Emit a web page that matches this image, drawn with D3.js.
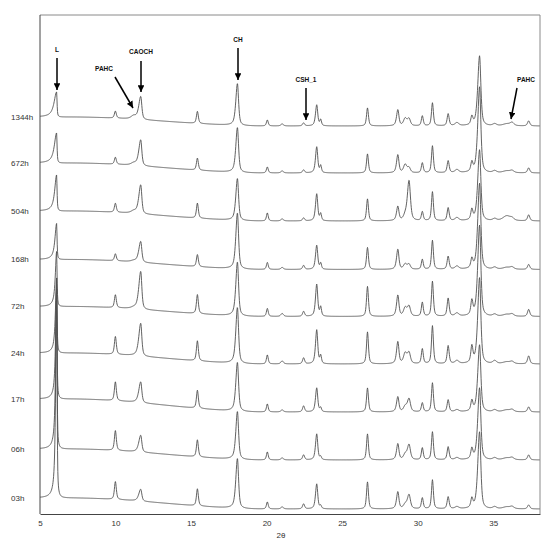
<!DOCTYPE html>
<html>
<head>
<meta charset="utf-8">
<script src="https://cdn.jsdelivr.net/npm/d3@7"></script>
<style>
  body { margin: 0; background: #fff; }
  svg { display: block; font-family: "Liberation Sans", Arial, sans-serif; }
</style>
</head>
<body>
<svg></svg>
<script>
// samples, top to bottom
var samples = ["1344h", "672h", "504h", "168h", "72h", "24h", "17h", "06h", "03h"];
// baseline level of each trace (after the first peak) and background drop towards 20 deg
var baseLevel = [397, 351, 303, 254.5, 207.5, 161, 115, 65, 16];
var bgDrop    = [9, 10, 10, 10, 10, 11, 13, 11, 11];
// width of the L peak (left half width) per sample
var lWidth = [0.2, 0.18, 0.15, 0.13, 0.1, 0.09, 0.08, 0.075, 0.07];

// peak positions (2theta) and fwhm
var peakPos   = [9.99, 11.2, 11.67, 15.42, 18.07, 20.05, 21.03, 22.45, 23.32, 23.58, 26.68, 28.69, 29.17, 29.43, 30.31, 30.98, 32.02, 32.6, 33.59, 34.1, 35.1, 35.9, 36.25, 37.35];
var peakWidth = [0.15, 0.4, 0.17, 0.15, 0.18, 0.14, 0.2, 0.16, 0.16, 0.13, 0.15, 0.17, 0.25, 0.22, 0.15, 0.15, 0.16, 0.3, 0.16, 0.2, 0.3, 0.6, 0.3, 0.18];
var peakLeft  = [1, 1, 1.8, 1, 1.4, 1, 1, 1, 1.2, 1, 1, 1.2, 1, 1.2, 1, 1, 1, 1, 1, 1.4, 1, 1, 1, 1];

// L peak heights per sample
var heightL = [25, 30, 36, 36, 55, 75, 110, 160, 220];
// heights of other peaks, one row per peak, columns follow samples
var peakHeights = [
  [7, 7, 9, 7, 13, 18, 19, 20, 18],      // 9.99
  [3, 2, 2, 1, 1, 0, 0, 0, 0],            // 11.2 PAHC
  [23, 26, 29, 21, 38, 33, 21, 17, 12],   // 11.67 CAOCH
  [12, 12, 15, 12, 19, 20, 18, 17, 17],   // 15.42
  [42, 45, 42, 56, 54, 56, 49, 48, 50],   // 18.07 CH
  [6, 6, 8, 7, 8, 9, 8, 8, 7],            // 20.05
  [2, 2, 2, 2, 3, 3, 2, 2, 2],            // 21.03
  [3, 3, 3, 4, 5, 6, 6, 5, 5],            // 22.45
  [21, 26, 27, 24, 32, 34, 24, 26, 25],   // 23.32
  [6, 7, 7, 6, 9, 8, 4, 3, 3],            // 23.58
  [18, 19, 22, 22, 30, 32, 24, 26, 27],   // 26.68
  [16, 18, 14, 20, 21, 22, 15, 16, 17],   // 28.69
  [7, 8, 4, 5, 8, 10, 5, 5, 4],           // 29.17
  [7, 5, 40, 5, 10, 11, 13, 15, 14],      // 29.43
  [10, 10, 9, 10, 14, 15, 9, 12, 11],     // 30.31
  [23, 27, 29, 29, 35, 38, 29, 28, 29],   // 30.98
  [12, 12, 13, 13, 18, 18, 12, 13, 12],   // 32.02
  [3, 3, 3, 3, 3, 3, 2, 2, 2],            // 32.6
  [8, 9, 10, 9, 14, 16, 10, 10, 9],       // 33.59
  [70, 86, 71, 86, 91, 86, 67, 72, 77],   // 34.1
  [2, 2, 2, 2, 2, 3, 2, 2, 2],            // 35.1
  [2, 2, 5, 2, 2, 2, 2, 2, 2],            // 35.9
  [3, 2, 2, 2, 2, 2, 2, 2, 2],            // 36.25
  [5, 5, 6, 5, 7, 8, 5, 5, 4]             // 37.35
];

var xTicks = [5, 10, 15, 20, 25, 30, 35];

// annotations: label, text pos, arrow start, arrow end
var notes = [
  {label: "L",     tx: 57,  ty: 52, x1: 57,  y1: 58, x2: 57,  y2: 90},
  {label: "PAHC",  tx: 104, ty: 71, x1: 115, y1: 77, x2: 133, y2: 108},
  {label: "CAOCH", tx: 141, ty: 54, x1: 141, y1: 61, x2: 141, y2: 92},
  {label: "CH",    tx: 238, ty: 42, x1: 238, y1: 48, x2: 238, y2: 80},
  {label: "CSH_1", tx: 306, ty: 82, x1: 306, y1: 88, x2: 306, y2: 120},
  {label: "PAHC",  tx: 526, ty: 82, x1: 517, y1: 88, x2: 511, y2: 119}
];

var width = 550;
var height = 546;
var padLeft = 40, padRight = 540, padTop = 15, padBottom = 514;

var svg = d3.select('svg')
  .attr('width', width)
  .attr('height', height);

var xScale = d3.scaleLinear()
  .domain([5, 38.1])
  .range([padLeft, padRight]);

var yScale = d3.scaleLinear()
  .domain([0, padBottom - padTop])
  .range([padBottom, padTop]);

function pv(d, fwhm, eta) {
  var r = (d / fwhm) * (d / fwhm);
  return eta / (1 + 4 * r) + (1 - eta) * Math.exp(-4 * Math.LN2 * r);
}

function bgShape(t) {
  var s = Math.max(0, Math.min(1, (t - 7) / 13));
  return s * s * (3 - 2 * s);
}

var grid = d3.range(5, 38.11, 0.02);

function traceFor(i) {
  return grid.map(function(t) {
    var v = baseLevel[i] - bgDrop[i] * bgShape(t);
    var d = t - 6.1;
    v += heightL[i] * (d < 0 ? pv(d, 2 * lWidth[i], 0.9) : pv(d, 0.07, 0.7));
    for (var k = 0; k < peakPos.length; k++) {
      var dk = t - peakPos[k];
      var w = dk < 0 ? peakWidth[k] * peakLeft[k] : peakWidth[k];
      v += peakHeights[k][i] * pv(dk, w, 0.6);
    }
    return [t, v];
  });
}

svg.append('clipPath').attr('id', 'plot')
  .append('rect')
  .attr('x', padLeft).attr('y', padTop)
  .attr('width', padRight - padLeft).attr('height', padBottom - padTop);

var line = d3.line()
  .x(function(d) { return xScale(d[0]); })
  .y(function(d) { return yScale(d[1]); });

svg.append('g')
  .attr('clip-path', 'url(#plot)')
  .selectAll('path')
  .data(samples)
  .enter()
  .append('path')
    .attr('d', function(d, i) { return line(traceFor(i)); })
    .attr('fill', 'none')
    .attr('stroke', '#505050')
    .attr('stroke-width', 0.9);

// frame
svg.append('path')
  .attr('d', 'M' + padLeft + ',' + padTop + 'H' + padRight + 'V' + padBottom)
  .attr('fill', 'none')
  .attr('stroke', '#8a8a8a')
  .attr('stroke-width', 1);

svg.append('line')
  .attr('x1', padLeft).attr('x2', padLeft)
  .attr('y1', padTop).attr('y2', padBottom)
  .attr('stroke', '#444');

var xAxis = d3.axisBottom(xScale)
  .tickValues(xTicks)
  .tickSize(0)
  .tickPadding(6);

var gx = svg.append('g')
  .attr('transform', 'translate(0,' + padBottom + ')')
  .call(xAxis);
gx.select('.domain').attr('stroke', '#444');
gx.selectAll('text').style('font-size', '8px').attr('fill', '#333');

svg.append('text')
  .attr('x', 281)
  .attr('y', 538)
  .style('text-anchor', 'middle')
  .style('font-size', '8px')
  .attr('fill', '#333')
  .text('2θ');

// sample labels
svg.selectAll('.lab')
  .data(samples)
  .enter()
  .append('text')
    .attr('class', 'lab')
    .attr('x', 11)
    .attr('y', function(d, i) { return yScale(baseLevel[i]) + 2.5; })
    .style('font-size', '8px')
    .attr('fill', '#333')
    .text(function(d) { return d; });

// arrows
svg.append('defs').append('marker')
  .attr('id', 'head')
  .attr('viewBox', '0 0 10 10')
  .attr('refX', 10).attr('refY', 5)
  .attr('markerWidth', 4.5).attr('markerHeight', 4.5)
  .attr('orient', 'auto')
  .append('path')
    .attr('d', 'M0,0L10,5L0,10z')
    .attr('fill', '#000');

svg.selectAll('.arrow')
  .data(notes)
  .enter()
  .append('line')
    .attr('class', 'arrow')
    .attr('x1', function(d) { return d.x1; })
    .attr('y1', function(d) { return d.y1; })
    .attr('x2', function(d) { return d.x2; })
    .attr('y2', function(d) { return d.y2; })
    .attr('stroke', '#000')
    .attr('stroke-width', 1.5)
    .attr('marker-end', 'url(#head)');

svg.selectAll('.note')
  .data(notes)
  .enter()
  .append('text')
    .attr('class', 'note')
    .attr('x', function(d) { return d.tx; })
    .attr('y', function(d) { return d.ty; })
    .style('text-anchor', 'middle')
    .style('font-size', '6.5px')
    .style('font-weight', 'bold')
    .attr('fill', '#111')
    .text(function(d) { return d.label; });
</script>
</body>
</html>
